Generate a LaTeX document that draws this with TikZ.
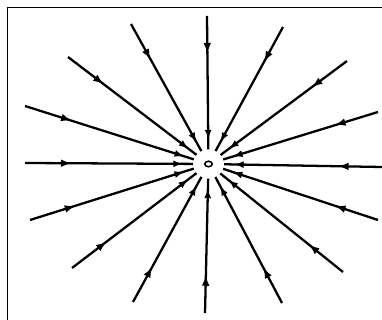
\documentclass[tikz,border=0pt]{standalone}
\usepackage{tikz}
\usetikzlibrary{arrows.meta,decorations.markings,shapes.geometric}

\begin{document}
\begin{tikzpicture}[x=0.02cm,y=-0.02cm,
 charge/.style={ellipse,draw=black,line width=0.9pt,inner sep=0pt,minimum width=0.15cm,minimum height=0.11cm},
 field/.style={line width=1.3pt,shorten >=0.22cm,postaction={decorate},
  decoration={markings,
   mark=at position 0.26 with {\arrow{Latex[length=6pt,width=4.4pt]}},
   mark=at position -0.42cm with {\arrow{Latex[length=5.5pt,width=4pt]}}}},
 frame/.style={line width=0.7pt}]
\useasboundingbox (0,0) rectangle (382,320);
\draw[frame] (382,7.5) -- (7.5,7.5) -- (7.5,320);
\node[charge] (q) at (208.5,164) {};
% outer ends of the field lines
\foreach \x/\y [count=\i] in {207/16,283/27,347/61,378/112,382/167,378/220,343/272,282/303,
  205/313,133/302,72/268,30/220,25/163,25/106,68/57,131/24}
  \coordinate (e\i) at (\x,\y);
\foreach \i in {1,...,16}
  \draw[field] (e\i) -- (q);
\end{tikzpicture}
\end{document}
